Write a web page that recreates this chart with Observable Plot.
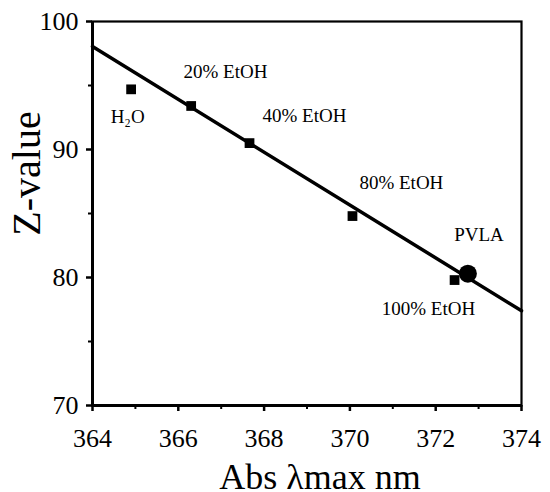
<!DOCTYPE html>
<html>
<head>
<meta charset="utf-8">
<script src="https://cdn.jsdelivr.net/npm/d3@7"></script>
<script src="https://cdn.jsdelivr.net/npm/@observablehq/plot@0.6"></script>
<style>
  html, body { margin: 0; padding: 0; background: #fff; }
  #chart svg { display: block; overflow: visible; }
  #chart svg, #chart svg text { font-family: "Liberation Serif", "Times New Roman", serif !important; }
</style>
</head>
<body>
<div id="chart"></div>
<script>
// Measured points (squares): solvent mixtures
const solvents = ["H2O", "20% EtOH", "40% EtOH", "80% EtOH", "100% EtOH"];
const solventAbs = [364.9, 366.3, 367.66, 370.06, 372.44];
const solventZ = [94.7, 93.4, 90.5, 84.8, 79.8];

// PVLA point (circle)
const pvlaAbs = [372.75];
const pvlaZ = [80.3];

// Fitted straight line (ends)
const fitAbs = [364, 374];
const fitZ = [98.05, 77.4];

// Point labels and their positions in data units
const labelText = ["H\u2082O", "20% EtOH", "40% EtOH", "80% EtOH", "PVLA", "100% EtOH"];
const labelAbs = [364.82, 367.1, 368.94, 371.2, 373.01, 371.83];
const labelZ = [92.54, 96.04, 92.66, 87.38, 83.36, 77.54];

// Axis ticks and titles
const xTicks = [364, 366, 368, 370, 372, 374];
const xMinor = [365, 367, 369, 371, 373];
const yTicks = [70, 80, 90, 100];
const yMinor = [75, 85, 95];
const xTitle = "Abs \u03BBmax nm";
const yTitle = "Z-value";

const points = solvents.map((s, i) => ({name: s, x: solventAbs[i], y: solventZ[i]}));
const pvla = pvlaAbs.map((x, i) => ({x, y: pvlaZ[i]}));
const fit = fitAbs.map((x, i) => ({x, y: fitZ[i]}));
const labels = labelText.map((t, i) => ({t, x: labelAbs[i], y: labelZ[i]}));

const font = "'Liberation Serif', 'Times New Roman', serif";

const chart = Plot.plot({
  width: 550,
  height: 492,
  marginLeft: 92,
  marginRight: 29,
  marginTop: 21,
  marginBottom: 87,
  style: {fontFamily: font, background: "#fff", color: "#000", overflow: "visible"},
  x: {domain: [364, 374], label: null},
  y: {domain: [70, 100], label: null},
  marks: [
    Plot.frame({stroke: "#000", strokeWidth: 2.2}),
    Plot.axisX({ticks: xTicks, label: null, tickSize: 6, tickPadding: 17, fontSize: 26, fontFamily: font, strokeWidth: 2.5, tickFormat: d => String(d)}),
    Plot.axisX({ticks: xMinor, label: null, tickSize: 4, text: null, strokeWidth: 2}),
    Plot.axisY({ticks: yTicks, label: null, tickSize: 6, tickPadding: 8, fontSize: 26, fontFamily: font, strokeWidth: 2.5, tickFormat: d => String(d)}),
    Plot.axisY({ticks: yMinor, label: null, tickSize: 4, text: null, strokeWidth: 2}),
    Plot.ruleX([364], {stroke: "#000", strokeWidth: 3}),
    Plot.ruleY([70], {stroke: "#000", strokeWidth: 3}),
    Plot.line(fit, {x: "x", y: "y", stroke: "#000", strokeWidth: 3.5}),
    Plot.dot(points, {x: "x", y: "y", symbol: "square", r: 5.5, fill: "#000", stroke: "none"}),
    Plot.dot(pvla, {x: "x", y: "y", symbol: "circle", r: 9, fill: "#000", stroke: "none"}),
    Plot.text(labels, {x: "x", y: "y", text: "t", fontSize: 19, fontFamily: font, fill: "#000", textAnchor: "middle", lineAnchor: "middle"}),
    Plot.text([xTitle], {frameAnchor: "bottom", dx: 13, dy: 72, fontSize: 36, fontFamily: font, fill: "#000", textAnchor: "middle", lineAnchor: "middle"}),
    Plot.text([yTitle], {frameAnchor: "left", rotate: -90, dx: -65, dy: -40, fontSize: 40, fontFamily: font, fill: "#000", textAnchor: "middle", lineAnchor: "middle"})
  ]
});

document.getElementById("chart").appendChild(chart);
</script>
</body>
</html>
